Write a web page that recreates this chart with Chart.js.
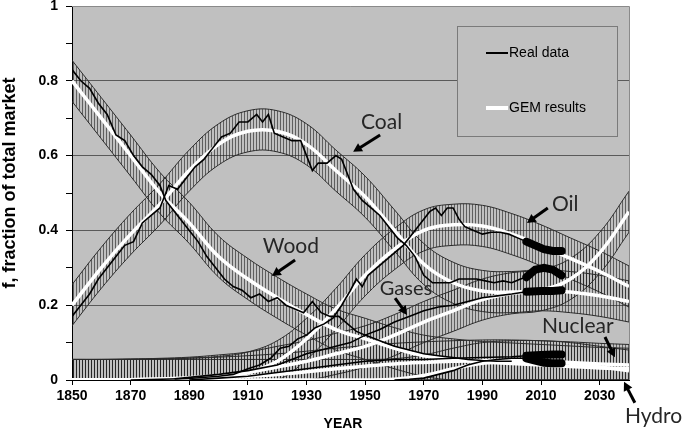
<!DOCTYPE html>
<html>
<head>
<meta charset="utf-8">
<title>Market share substitution</title>
<script src="https://cdn.jsdelivr.net/npm/chart.js@4.4.1/dist/chart.umd.min.js"></script>
<style>
    html, body { margin: 0; padding: 0; background: #fff; }
    canvas { display: block; }
</style>
</head>
<body>
<canvas id="marketChart" width="685" height="432"></canvas>
<script>
// GEM model results, every 10 years
const gemYears   = [1850, 1860, 1870, 1880, 1890, 1900, 1910, 1920, 1930, 1940, 1950, 1960, 1970, 1980, 1990, 2000, 2010, 2020, 2030, 2040];
const gemWood    = [0.80, 0.70, 0.60, 0.50, 0.42, 0.33, 0.27, 0.22, 0.175, 0.135, 0.11, 0.085, 0.065, 0.055, 0.048, 0.044, 0.04, 0.036, 0.032, 0.03];
const gemCoal    = [0.20, 0.30, 0.39, 0.47, 0.56, 0.63, 0.665, 0.665, 0.63, 0.56, 0.49, 0.40, 0.31, 0.26, 0.238, 0.235, 0.24, 0.235, 0.225, 0.21];
const gemOil     = [0, 0, 0.001, 0.002, 0.004, 0.008, 0.02, 0.05, 0.11, 0.19, 0.28, 0.35, 0.40, 0.415, 0.412, 0.39, 0.36, 0.325, 0.29, 0.25];
const gemGas     = [0, 0, 0.001, 0.003, 0.006, 0.012, 0.02, 0.035, 0.05, 0.07, 0.09, 0.12, 0.155, 0.185, 0.215, 0.232, 0.24, 0.27, 0.34, 0.45];
const gemHydro   = [0, 0, 0, 0.001, 0.003, 0.006, 0.01, 0.015, 0.022, 0.03, 0.037, 0.043, 0.047, 0.05, 0.052, 0.052, 0.05, 0.047, 0.043, 0.04];
const gemNuclear = [0, 0, 0, 0, 0, 0, 0, 0, 0, 0, 0, 0.002, 0.012, 0.03, 0.045, 0.05, 0.05, 0.045, 0.035, 0.025];
const bandHalfWidth = 0.055;

// Real data
const realWoodYears = [1850, 1853, 1856, 1859, 1862, 1865, 1868, 1871, 1874, 1877, 1880, 1882, 1884, 1887, 1890, 1893, 1896, 1899, 1902, 1905, 1908, 1911, 1914, 1917, 1920, 1923, 1926, 1929, 1932, 1935, 1938, 1941, 1944, 1947, 1950, 1955, 1960, 1965, 1970, 1975, 1980, 1985, 1990, 1995, 2000];
const realWood      = [0.83, 0.80, 0.78, 0.74, 0.71, 0.655, 0.64, 0.60, 0.57, 0.55, 0.52, 0.48, 0.46, 0.43, 0.40, 0.37, 0.33, 0.30, 0.27, 0.25, 0.24, 0.22, 0.23, 0.21, 0.22, 0.20, 0.19, 0.18, 0.21, 0.18, 0.17, 0.17, 0.15, 0.13, 0.12, 0.105, 0.09, 0.08, 0.07, 0.065, 0.06, 0.055, 0.052, 0.05, 0.05];

const realCoalYears = [1850, 1853, 1856, 1859, 1862, 1865, 1868, 1871, 1874, 1877, 1880, 1883, 1886, 1889, 1892, 1895, 1898, 1901, 1904, 1907, 1910, 1913, 1915, 1917, 1919, 1922, 1925, 1928, 1930, 1932, 1934, 1937, 1940, 1942, 1944, 1946, 1949, 1952, 1955, 1958, 1961, 1964, 1967, 1970, 1973, 1976, 1979, 1982, 1985, 1988, 1991, 1994, 1997, 2000, 2003, 2005, 2008, 2011, 2014, 2017];
const realCoal      = [0.17, 0.20, 0.23, 0.27, 0.30, 0.33, 0.36, 0.37, 0.42, 0.44, 0.46, 0.52, 0.51, 0.54, 0.57, 0.59, 0.62, 0.65, 0.66, 0.69, 0.69, 0.71, 0.69, 0.71, 0.66, 0.65, 0.64, 0.64, 0.60, 0.56, 0.58, 0.58, 0.60, 0.59, 0.55, 0.51, 0.48, 0.46, 0.44, 0.41, 0.38, 0.36, 0.33, 0.28, 0.26, 0.26, 0.26, 0.27, 0.27, 0.27, 0.265, 0.26, 0.265, 0.26, 0.27, 0.275, 0.295, 0.30, 0.295, 0.28];

const realOilYears = [1870, 1880, 1890, 1900, 1905, 1910, 1914, 1918, 1921, 1924, 1927, 1930, 1933, 1936, 1939, 1942, 1945, 1947, 1949, 1951, 1954, 1957, 1960, 1963, 1966, 1969, 1972, 1974, 1976, 1978, 1980, 1982, 1984, 1987, 1990, 1993, 1996, 1999, 2002, 2005, 2008, 2011, 2014, 2017];
const realOil      = [0, 0.002, 0.004, 0.01, 0.015, 0.03, 0.04, 0.06, 0.085, 0.09, 0.11, 0.12, 0.14, 0.15, 0.165, 0.20, 0.24, 0.27, 0.25, 0.28, 0.30, 0.32, 0.34, 0.36, 0.39, 0.42, 0.45, 0.46, 0.44, 0.46, 0.46, 0.43, 0.41, 0.40, 0.39, 0.395, 0.395, 0.39, 0.38, 0.37, 0.36, 0.35, 0.345, 0.345];

const realGasYears = [1885, 1900, 1910, 1920, 1925, 1930, 1935, 1940, 1945, 1950, 1955, 1960, 1965, 1970, 1975, 1980, 1985, 1990, 1995, 2000, 2005, 2010, 2014, 2017];
const realGas      = [0.003, 0.015, 0.025, 0.04, 0.055, 0.07, 0.08, 0.09, 0.10, 0.12, 0.135, 0.155, 0.17, 0.185, 0.195, 0.20, 0.21, 0.22, 0.225, 0.23, 0.236, 0.238, 0.238, 0.24];

const realHydroYears = [1890, 1900, 1910, 1920, 1930, 1940, 1950, 1960, 1970, 1980, 1990, 2000, 2005, 2010, 2014, 2017];
const realHydro      = [0, 0.005, 0.01, 0.02, 0.03, 0.04, 0.05, 0.055, 0.055, 0.058, 0.06, 0.062, 0.065, 0.067, 0.068, 0.068];

const realNuclearYears = [1960, 1965, 1970, 1975, 1980, 1985, 1990, 1995, 2000, 2005, 2008, 2011, 2014, 2017];
const realNuclear      = [0, 0.002, 0.005, 0.015, 0.025, 0.04, 0.05, 0.055, 0.058, 0.058, 0.052, 0.046, 0.045, 0.045];

// recent years are drawn with a heavy line
const thickFrom = 2005;

// axes
const xTickYears  = [1850, 1870, 1890, 1910, 1930, 1950, 1970, 1990, 2010, 2030];
const yTickLabels = ['0', '', '0.2', '', '0.4', '', '0.6', '', '0.8', '', '1'];

const fontFamily = 'Liberation Sans, Arial, sans-serif';
const noteFont = 'Lato, "Open Sans", sans-serif';

// labels with arrows, in data coordinates (year, fraction)
const notes = [
    { text: 'Coal',    at: [1948.6, 0.671], from: [1955.1, 0.655],  to: [1945.9, 0.610], size: 21 },
    { text: 'Oil',     at: [2013.7, 0.452], from: [2012.3, 0.460],  to: [2005.2, 0.420], size: 21 },
    { text: 'Wood',    at: [1915.1, 0.340], from: [1926.1, 0.321],  to: [1918.2, 0.278], size: 21 },
    { text: 'Gases',   at: [1955.0, 0.227], from: [1960.2, 0.219],  to: [1964.3, 0.174], size: 20 },
    { text: 'Nuclear', at: [2010.3, 0.126], from: [2031.8, 0.115],  to: [2035.2, 0.061], size: 21 },
    { text: 'Hydro',   at: [2038.6, -0.115], from: [2042.0, -0.061], to: [2038.3, -0.005], size: 21 }
];

function makeHatch() {
    const c = document.createElement('canvas');
    c.width = 3;
    c.height = 4;
    const g = c.getContext('2d');
    g.fillStyle = 'rgba(35,35,35,0.62)';
    g.fillRect(1, 0, 1, 4);
    return g.createPattern(c, 'repeat');
}

function drawArrow(ctx, x1, y1, x2, y2) {
    const ang = Math.atan2(y2 - y1, x2 - x1);
    const head = 10;
    ctx.strokeStyle = '#000';
    ctx.fillStyle = '#000';
    ctx.lineWidth = 3;
    ctx.beginPath();
    ctx.moveTo(x1, y1);
    ctx.lineTo(x2 - Math.cos(ang) * head * 0.7, y2 - Math.sin(ang) * head * 0.7);
    ctx.stroke();
    ctx.beginPath();
    ctx.moveTo(x2, y2);
    ctx.lineTo(x2 - head * Math.cos(ang - 0.5), y2 - head * Math.sin(ang - 0.5));
    ctx.lineTo(x2 - head * Math.cos(ang + 0.5), y2 - head * Math.sin(ang + 0.5));
    ctx.closePath();
    ctx.fill();
}

const hatch = makeHatch();

const fuels = [
    { gem: gemWood,    years: realWoodYears,    real: realWood },
    { gem: gemCoal,    years: realCoalYears,    real: realCoal },
    { gem: gemOil,     years: realOilYears,     real: realOil },
    { gem: gemGas,     years: realGasYears,     real: realGas },
    { gem: gemHydro,   years: realHydroYears,   real: realHydro },
    { gem: gemNuclear, years: realNuclearYears, real: realNuclear }
];

const datasets = [];

// error bands (hatched), drawn at the back
fuels.forEach(f => {
    datasets.push({
        data: gemYears.map((yr, i) => ({ x: yr, y: Math.min(1, f.gem[i] + bandHalfWidth) })),
        borderColor: '#2b2b2b',
        borderWidth: 1,
        backgroundColor: hatch,
        fill: '+1',
        pointRadius: 0,
        tension: 0.4,
        order: 3
    });
    datasets.push({
        data: gemYears.map((yr, i) => ({ x: yr, y: Math.max(0, f.gem[i] - bandHalfWidth) })),
        borderColor: '#2b2b2b',
        borderWidth: 1,
        fill: false,
        pointRadius: 0,
        tension: 0.4,
        order: 3
    });
});

// GEM results (white)
fuels.forEach(f => {
    datasets.push({
        data: gemYears.map((yr, i) => ({ x: yr, y: f.gem[i] })),
        borderColor: '#ffffff',
        borderWidth: 3.5,
        fill: false,
        pointRadius: 0,
        tension: 0.4,
        order: 2
    });
});

// Real data (black), heavy for the latest years
fuels.forEach(f => {
    datasets.push({
        data: f.years.map((yr, i) => ({ x: yr, y: f.real[i] })),
        borderColor: '#000000',
        borderWidth: 1.6,
        fill: false,
        pointRadius: 0,
        tension: 0,
        order: 1,
        segment: {
            borderWidth: ctx => ctx.p0.parsed.x >= thickFrom ? 8 : 1.6,
            borderCapStyle: ctx => ctx.p0.parsed.x >= thickFrom ? 'round' : 'butt'
        }
    });
});

const plotDecor = {
    id: 'plotDecor',
    beforeDraw(chart) {
        const { ctx, chartArea: a } = chart;
        ctx.save();
        ctx.fillStyle = '#c0c0c0';
        ctx.fillRect(a.left, a.top, a.right - a.left, a.bottom - a.top);
        ctx.restore();
    },
    afterDraw(chart) {
        const { ctx, chartArea: a } = chart;
        const xs = chart.scales.x;
        const ys = chart.scales.y;
        ctx.save();

        // plot area border (top, right)
        ctx.strokeStyle = '#8a8a8a';
        ctx.lineWidth = 1;
        ctx.beginPath();
        ctx.moveTo(a.left, a.top + 0.5);
        ctx.lineTo(a.right + 0.5, a.top + 0.5);
        ctx.lineTo(a.right + 0.5, a.bottom);
        ctx.stroke();

        // legend
        ctx.fillStyle = '#c0c0c0';
        ctx.fillRect(457, 26, 160, 110);
        ctx.strokeStyle = '#7a7a7a';
        ctx.strokeRect(457.5, 26.5, 160, 110);
        ctx.strokeStyle = '#000';
        ctx.lineWidth = 2;
        ctx.beginPath();
        ctx.moveTo(486, 53);
        ctx.lineTo(508, 53);
        ctx.stroke();
        ctx.strokeStyle = '#fff';
        ctx.lineWidth = 4;
        ctx.beginPath();
        ctx.moveTo(486, 108);
        ctx.lineTo(508, 108);
        ctx.stroke();
        ctx.fillStyle = '#000';
        ctx.font = '14px ' + fontFamily;
        ctx.textBaseline = 'middle';
        ctx.textAlign = 'left';
        ctx.fillText('Real data', 509, 53);
        ctx.fillText('GEM results', 509, 108);

        // axis titles
        ctx.font = 'bold 14px ' + fontFamily;
        ctx.textAlign = 'center';
        ctx.fillText('YEAR', 343, 424);
        ctx.save();
        ctx.translate(10, 183);
        ctx.rotate(-Math.PI / 2);
        ctx.font = 'bold 18px ' + fontFamily;
        ctx.fillText('f, fraction of total market', 0, 0);
        ctx.restore();

        // labels with arrows
        notes.forEach(n => {
            ctx.font = n.size + 'px ' + noteFont;
            ctx.fillStyle = '#262626';
            ctx.textAlign = 'left';
            ctx.textBaseline = 'alphabetic';
            ctx.fillText(n.text, xs.getPixelForValue(n.at[0]), ys.getPixelForValue(n.at[1]));
            drawArrow(ctx,
                xs.getPixelForValue(n.from[0]), ys.getPixelForValue(n.from[1]),
                xs.getPixelForValue(n.to[0]), ys.getPixelForValue(n.to[1]));
        });
        ctx.restore();
    }
};

new Chart(document.getElementById('marketChart'), {
    type: 'line',
    data: { datasets: datasets },
    plugins: [plotDecor],
    options: {
        responsive: false,
        animation: false,
        layout: { padding: { left: 0, right: 56, top: 6, bottom: 0 } },
        plugins: {
            legend: { display: false },
            tooltip: { enabled: false }
        },
        scales: {
            x: {
                type: 'linear',
                min: 1850,
                max: 2040,
                afterBuildTicks: scale => {
                    scale.ticks = xTickYears.map(v => ({ value: v }));
                },
                afterFit: scale => {
                    scale.height = 52;
                    scale.paddingLeft = 0;
                    scale.paddingRight = 0;
                },
                grid: { drawOnChartArea: false, tickLength: 5, tickColor: '#000' },
                border: { color: '#000', width: 1 },
                ticks: {
                    autoSkip: false,
                    maxRotation: 0,
                    padding: 3,
                    color: '#000',
                    font: { family: fontFamily, size: 14, weight: 'bold' },
                    callback: v => String(v)
                }
            },
            y: {
                min: 0,
                max: 1,
                afterFit: scale => {
                    scale.width = 72;
                    scale.paddingTop = 0;
                    scale.paddingBottom = 0;
                },
                grid: {
                    tickLength: 6,
                    tickColor: '#000',
                    color: c => (c.index > 0 && c.index < 10 && c.index % 2 === 0) ? '#5a5a5a' : 'rgba(0,0,0,0)'
                },
                border: { color: '#000', width: 1 },
                ticks: {
                    stepSize: 0.1,
                    padding: 8,
                    color: '#000',
                    font: { family: fontFamily, size: 14, weight: 'bold' },
                    callback: (v, i) => yTickLabels[i]
                }
            }
        }
    }
});
</script>
</body>
</html>
